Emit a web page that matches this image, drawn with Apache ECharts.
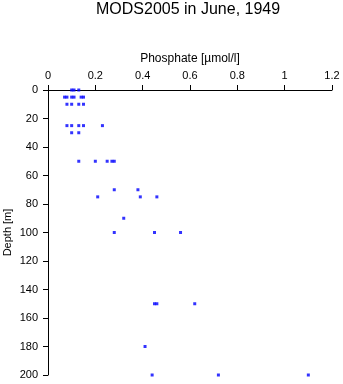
<!DOCTYPE html>
<html>
<head>
<meta charset="utf-8">
<script src="https://cdn.jsdelivr.net/npm/echarts@6/dist/echarts.min.js"></script>
<style>
  html, body { margin: 0; padding: 0; background: #fff; }
  #chart { width: 343px; height: 384px; }
</style>
</head>
<body>
<div id="chart"></div>
<script>
// Phosphate samples by depth, one entry per bottle.
var depths = [
  0, 0, 0,
  5, 5, 5, 5, 5, 5,
  10, 10, 10, 10,
  25, 25, 25, 25, 25,
  30, 30,
  50, 50, 50, 50, 50,
  70, 70,
  75, 75, 75,
  90,
  100, 100, 100,
  150, 150, 150,
  180,
  200, 200, 200
];
var phosphate = [
  0.10, 0.11, 0.13,
  0.07, 0.08, 0.10, 0.11, 0.14, 0.15,
  0.08, 0.10, 0.13, 0.15,
  0.08, 0.10, 0.13, 0.15, 0.23,
  0.10, 0.13,
  0.13, 0.20, 0.25, 0.27, 0.28,
  0.28, 0.38,
  0.21, 0.39, 0.46,
  0.32,
  0.28, 0.45, 0.56,
  0.45, 0.46, 0.62,
  0.41,
  0.44, 0.72, 1.10
];
var xTicks = { min: 0, max: 1.2, step: 0.2 };
var yTicks = { min: 0, max: 200, step: 20 };

var points = phosphate.map(function (p, i) { return [p, depths[i]]; });

var font = 'Liberation Sans, Arial, Helvetica, sans-serif';
var chart = echarts.init(document.getElementById('chart'), null, { renderer: 'canvas' });
chart.setOption({
  animation: false,
  backgroundColor: '#ffffff',
  title: {
    text: 'MODS2005 in June, 1949',
    left: 91,
    top: -3,
    textStyle: { fontFamily: font, fontSize: 16, fontWeight: 'normal', color: '#000' }
  },
  grid: { left: 48, top: 90, right: 11, bottom: 9, containLabel: false, outerBoundsMode: 'none' },
  xAxis: {
    type: 'value',
    position: 'top',
    min: xTicks.min, max: xTicks.max, interval: xTicks.step,
    name: 'Phosphate [\u00b5mol/l]',
    nameLocation: 'middle',
    nameGap: 25,
    nameMoveOverlap: false,
    nameTextStyle: { fontFamily: font, fontSize: 12, color: '#000' },
    axisLine: { show: true, onZero: false, lineStyle: { color: '#000', width: 1 } },
    axisTick: { show: true, inside: false, length: 5, lineStyle: { color: '#000' } },
    axisLabel: { fontFamily: font, fontSize: 11, color: '#000', margin: 9 },
    splitLine: { show: false }
  },
  yAxis: {
    type: 'value',
    inverse: true,
    min: yTicks.min, max: yTicks.max, interval: yTicks.step,
    name: 'Depth [m]',
    nameLocation: 'middle',
    nameGap: 35,
    nameMoveOverlap: false,
    nameRotate: 90,
    nameTextStyle: { fontFamily: font, fontSize: 11, color: '#000' },
    axisLine: { show: true, onZero: false, lineStyle: { color: '#000', width: 1 } },
    axisTick: { show: true, inside: false, length: 5, lineStyle: { color: '#000' } },
    axisLabel: { fontFamily: font, fontSize: 11, color: '#000', margin: 10 },
    splitLine: { show: false }
  },
  series: [{
    type: 'scatter',
    data: points,
    symbol: 'rect',
    symbolSize: 3,
    itemStyle: { color: '#0000ff' }
  }]
});
</script>
</body>
</html>
